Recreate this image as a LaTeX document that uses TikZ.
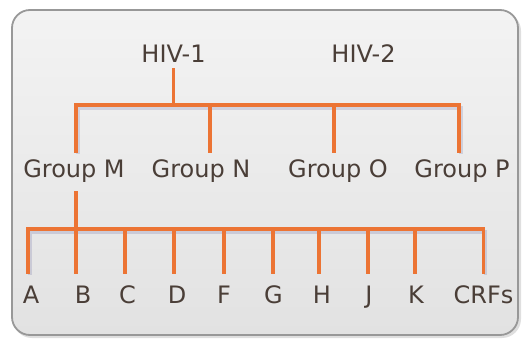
\documentclass[tikz,border=0pt]{standalone}
\usepackage{fontspec}
\setmainfont{DejaVu Sans}
\usetikzlibrary{calc,shadows}
\definecolor{lineor}{HTML}{EC7434}
\definecolor{txt}{HTML}{4A3E37}
\definecolor{bordr}{HTML}{989898}
\definecolor{bgtop}{HTML}{F3F3F3}
\definecolor{bgbot}{HTML}{E2E2E2}
\tikzset{
  lbl/.style={text=txt, font=\fontsize{24}{28}\selectfont, text height=17.5pt, text depth=5pt, inner xsep=0pt, anchor=base},
  toplbl/.style={lbl, inner ysep=2pt},
  grplbl/.style={lbl, inner ysep=9.5pt},
  leaflbl/.style={lbl, inner ysep=13.5pt},
  conn/.style={draw=lineor, line width=3.5pt, line cap=rect},
}
\begin{document}
\begin{tikzpicture}[x=1pt,y=-1pt]
\useasboundingbox (0,0) rectangle (522,339);
% frame
\fill[black!25, opacity=0.5, rounded corners=19pt] (13,12) rectangle (521,338);
\shade[top color=bgtop, bottom color=bgbot, rounded corners=18pt, draw=bordr, line width=1.8pt] (12,10) rectangle (518,335);
% labels
\node[toplbl] (HIV1) at (173.5,63) {HIV-1};
\node[toplbl] (HIV2) at (363.5,63) {HIV-2};
\node[grplbl] (GM) at (74,178) {Group M};
\node[grplbl] (GN) at (201,178) {Group N};
\node[grplbl] (GO) at (338,178) {Group O};
\node[grplbl] (GP) at (462,178) {Group P};
\node[leaflbl] (A) at (31,303) {A};
\node[leaflbl] (B) at (83,303) {B};
\node[leaflbl] (C) at (127.5,303) {C};
\node[leaflbl] (D) at (177,303) {D};
\node[leaflbl] (F) at (224,303) {F};
\node[leaflbl] (G) at (273.5,303) {G};
\node[leaflbl] (H) at (322,303) {H};
\node[leaflbl] (J) at (369,303) {J};
\node[leaflbl] (K) at (416,303) {K};
\node[leaflbl] (CRF) at (483.5,303) {CRFs};
\coordinate (bar1) at (174,105);
\coordinate (bar2) at (174,229);
% shadows of connectors
\begin{scope}[transform canvas={shift={(2pt,-3pt)}}, draw opacity=0.12]
\draw[line width=3.5pt, draw=black!60!blue] ([xshift=2pt]GM.north) |- ([xshift=-3pt]GP.north |- bar1) -- ([xshift=-3pt]GP.north);
\draw[line width=3.5pt, draw=black!60!blue] ([xshift=-3pt]A.north) |- (CRF.north |- bar2) -- (CRF.north);
\end{scope}
% connectors level 1
\draw[conn] (HIV1.south) -- (HIV1.south |- bar1);
\draw[conn] ([xshift=2pt]GM.north) |- ([xshift=-3pt]GP.north |- bar1) -- ([xshift=-3pt]GP.north);
\draw[conn] ([xshift=9pt]GN.north) -- ([xshift=9pt]GN.north |- bar1);
\draw[conn] ([xshift=-4pt]GO.north) -- ([xshift=-4pt]GO.north |- bar1);
% connectors level 2
\draw[conn] ([xshift=2pt]GM.south) -- ([xshift=-7pt]B.north);
\draw[conn] ([xshift=-3pt]A.north) |- (CRF.north |- bar2) -- (CRF.north);
\foreach \n/\dx in {C/-2.5,D/-3,F/0,G/-0.5,H/-3,J/-1,K/-1}{
  \draw[conn] ([xshift=\dx pt]\n.north) -- ([xshift=\dx pt]\n.north |- bar2);
}
\end{tikzpicture}
\end{document}
